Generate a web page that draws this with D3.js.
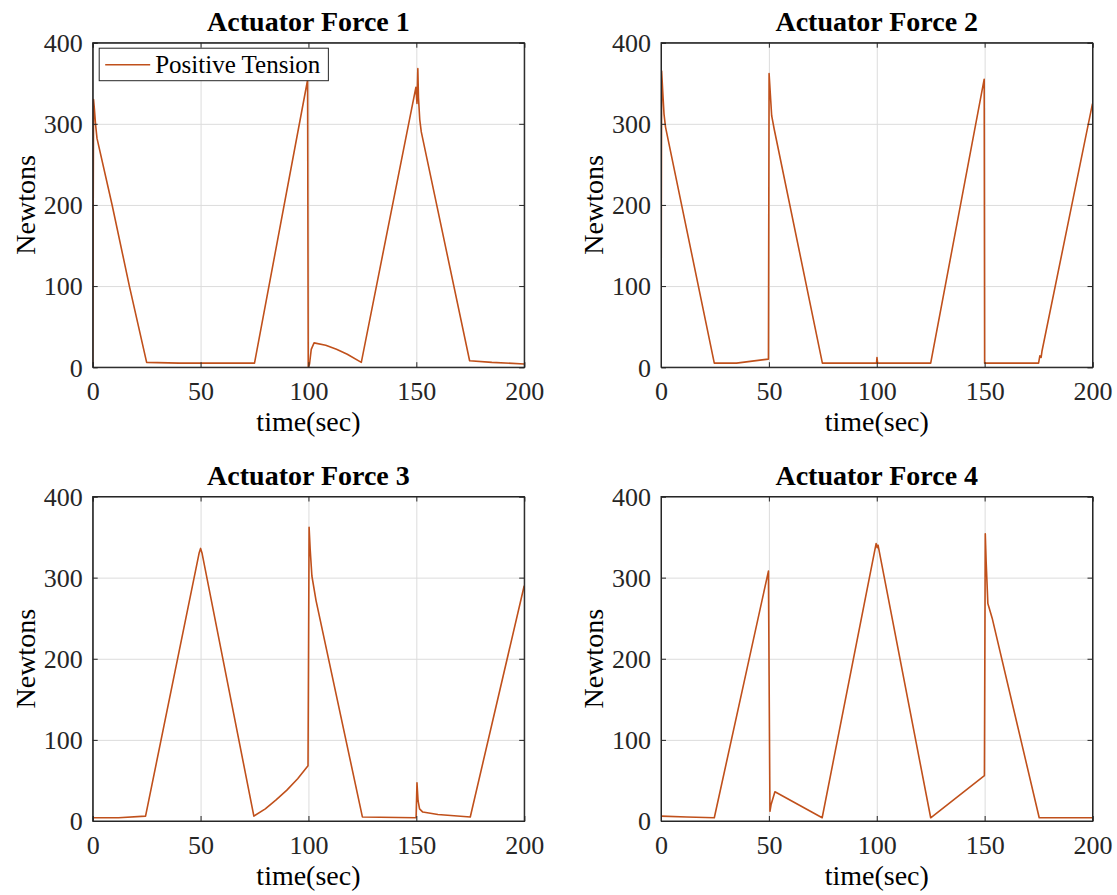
<!DOCTYPE html>
<html>
<head>
<meta charset="utf-8">
<script src="https://cdn.jsdelivr.net/npm/d3@7"></script>
<style>
  body { margin: 0; background: #fff; }
</style>
</head>
<body>
<div id="chart"></div>
<script>
// tick labels and titles
const xTicks = [0, 50, 100, 150, 200];
const yTicks = [0, 100, 200, 300, 400];
const titles = ["Actuator Force 1", "Actuator Force 2", "Actuator Force 3", "Actuator Force 4"];
const legendLabel = "Positive Tension";

// [time (sec), force (N)]
const force1 = [
  [0, 4], [0.4, 330], [0.8, 318], [1.3, 300], [2, 282], [9, 200], [17, 100], [25, 6],
  [40, 5], [75, 5], [99.6, 354], [99.9, 0], [100.5, 4], [101.3, 22], [102.6, 30],
  [108, 27], [113, 22], [118, 16], [124.5, 6], [149.8, 345], [150.3, 325],
  [150.7, 368], [151, 332], [151.6, 305], [152.3, 290], [174.7, 8], [185, 6], [200, 4]
];
const force2 = [
  [0, 2], [0.3, 365], [0.8, 340], [1.4, 312], [2.1, 296], [24.7, 5], [35, 5],
  [49.8, 10], [50.1, 362], [50.6, 340], [51.3, 310], [52.5, 293], [74.8, 5],
  [99.9, 5], [100.1, 12], [100.4, 5], [125, 5], [149.8, 355], [150, 5], [175, 5],
  [175.6, 14], [176.2, 12], [176.6, 20], [200, 325]
];
const force3 = [
  [0, 4], [12, 4], [24.5, 6], [49.3, 330], [50, 336], [50.7, 330], [74.7, 6],
  [80, 15], [85, 26], [90, 38], [95, 52], [99.8, 68], [100.3, 362], [100.8, 335],
  [101.6, 302], [103.5, 272], [125, 5], [149.9, 4], [150.3, 47], [150.8, 25],
  [151.5, 15], [153, 11], [160, 8], [175, 5], [200, 290]
];
const force4 = [
  [0, 6], [12, 5], [24.7, 4], [49.8, 308], [50.1, 180], [50.5, 12], [51, 20],
  [52.8, 36], [74.7, 4], [99.7, 342], [100.2, 337], [100.6, 340], [125, 4],
  [149.9, 56], [150.3, 354], [150.7, 320], [151.5, 268], [153.5, 250], [175.3, 4],
  [200, 4]
];
const series = [force1, force2, force3, force4];

const svgWidth = 1117;
const svgHeight = 895;
const plotW = 431.5;
const plotH = 324.5;
const panels = [
  { left: 92.7, top: 42.7 },
  { left: 661, top: 42.7 },
  { left: 92.7, top: 496.5 },
  { left: 661, top: 496.5 }
];
const lineColor = "#c0501b";
const fontFamily = '"Liberation Serif", "Times New Roman", Tinos, "DejaVu Serif", serif';
const tickFont = 26;
const labelFont = 28;

const svg = d3.select("#chart").append("svg")
  .attr("width", svgWidth)
  .attr("height", svgHeight)
  .attr("font-family", fontFamily);

const x = d3.scaleLinear().domain([0, 200]).range([0, plotW]);
const y = d3.scaleLinear().domain([0, 400]).range([plotH, 0]);

const line = d3.line()
  .x(d => x(d[0]))
  .y(d => y(d[1]));

panels.forEach((p, i) => {
  const g = svg.append("g")
    .attr("transform", `translate(${p.left},${p.top})`);

  g.append("clipPath").attr("id", "clip" + i)
    .append("rect").attr("width", plotW).attr("height", plotH);

  // grid
  g.append("g")
    .attr("class", "grid")
    .attr("transform", `translate(0,${plotH})`)
    .call(d3.axisBottom(x).tickValues(xTicks).tickSize(-plotH).tickFormat(""))
    .call(a => a.select(".domain").remove());
  g.append("g")
    .attr("class", "grid")
    .call(d3.axisLeft(y).tickValues(yTicks).tickSize(-plotW).tickFormat(""))
    .call(a => a.select(".domain").remove());
  g.selectAll(".grid line").attr("stroke", "#dcdcdc").attr("stroke-width", 1);

  // data line
  g.append("path")
    .datum(series[i])
    .attr("clip-path", `url(#clip${i})`)
    .attr("fill", "none")
    .attr("stroke", lineColor)
    .attr("stroke-width", 1.6)
    .attr("stroke-linejoin", "round")
    .attr("d", line);

  // axes, ticks pointing inward
  const xAxis = g.append("g")
    .attr("class", "axis")
    .attr("transform", `translate(0,${plotH})`)
    .call(d3.axisBottom(x).tickValues(xTicks).tickSize(-5));
  xAxis.selectAll("text")
    .attr("y", 33).attr("dy", null);

  const yAxis = g.append("g")
    .attr("class", "axis")
    .call(d3.axisLeft(y).tickValues(yTicks).tickSize(-5));
  yAxis.selectAll("text")
    .attr("x", -10).attr("dy", "0.34em");

  g.append("g")
    .attr("class", "axis")
    .call(d3.axisTop(x).tickValues(xTicks).tickSize(-5).tickFormat(""));
  g.append("g")
    .attr("class", "axis")
    .attr("transform", `translate(${plotW},0)`)
    .call(d3.axisRight(y).tickValues(yTicks).tickSize(-5).tickFormat(""));

  g.selectAll(".axis").attr("font-family", fontFamily).attr("font-size", tickFont);
  g.selectAll(".axis text").attr("fill", "#262626");
  g.selectAll(".axis line, .axis .domain").attr("stroke", "#262626");

  // box
  g.append("rect")
    .attr("width", plotW).attr("height", plotH)
    .attr("fill", "none").attr("stroke", "#262626").attr("stroke-width", 1);

  // labels
  g.append("text")
    .attr("x", plotW / 2).attr("y", -12)
    .attr("text-anchor", "middle")
    .attr("font-size", labelFont).attr("font-weight", "bold")
    .text(titles[i]);

  g.append("text")
    .attr("x", plotW / 2).attr("y", plotH + 64)
    .attr("text-anchor", "middle")
    .attr("font-size", labelFont)
    .text("time(sec)");

  g.append("text")
    .attr("transform", `translate(-58,${plotH / 2}) rotate(-90)`)
    .attr("text-anchor", "middle")
    .attr("font-size", labelFont)
    .text("Newtons");
});

// legend on first panel
const lg = svg.append("g")
  .attr("transform", `translate(${panels[0].left + 6.5},${panels[0].top + 5.5})`);
const lgBox = lg.append("rect")
  .attr("height", 32.5)
  .attr("fill", "#fff").attr("stroke", "#262626").attr("stroke-width", 1);
lg.append("line")
  .attr("x1", 6).attr("x2", 51).attr("y1", 16.5).attr("y2", 16.5)
  .attr("stroke", lineColor).attr("stroke-width", 1.6);
const lgText = lg.append("text")
  .attr("x", 56).attr("y", 25)
  .attr("font-size", 25)
  .text(legendLabel);
lgBox.attr("width", 56 + lgText.node().getComputedTextLength() + 8);
</script>
</body>
</html>
